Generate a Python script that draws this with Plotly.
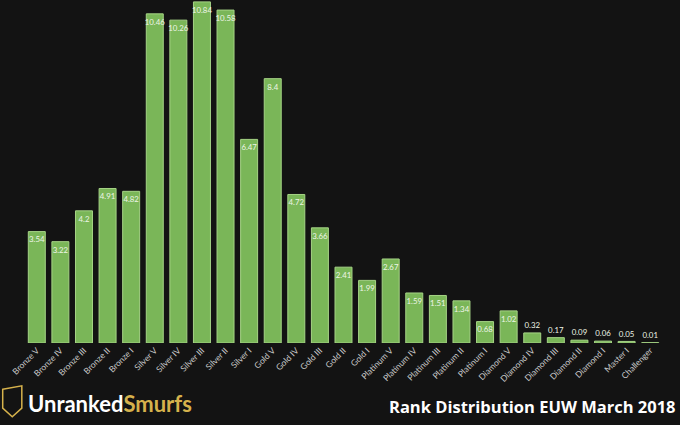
import plotly.graph_objects as go

# Rank distribution, EUW March 2018 (percent of players)
ranks = [
    "Bronze V", "Bronze IV", "Bronze III", "Bronze II", "Bronze I",
    "Silver V", "Silver IV", "Silver III", "Silver II", "Silver I",
    "Gold V", "Gold IV", "Gold III", "Gold II", "Gold I",
    "Platinum V", "Platinum IV", "Platinum III", "Platinum II", "Platinum I",
    "Diamond V", "Diamond IV", "Diamond III", "Diamond II", "Diamond I",
    "Master I", "Challenger",
]
share = [
    3.54, 3.22, 4.2, 4.91, 4.82,
    10.46, 10.26, 10.84, 10.58, 6.47,
    8.4, 4.72, 3.66, 2.41, 1.99,
    2.67, 1.59, 1.51, 1.34, 0.68,
    1.02, 0.32, 0.17, 0.09, 0.06,
    0.05, 0.01,
]

BG = "#131313"

# small bars get their label above the bar
text_pos = ["inside" if v >= 0.5 else "outside" for v in share]

fig = go.Figure()
fig.add_trace(
    go.Bar(
        x=ranks,
        y=share,
        text=[f"{v:g}" for v in share],
        textposition=text_pos,
        insidetextanchor="end",
        textangle=0,
        cliponaxis=False,
        textfont=dict(family="Lato", size=9, color="#eef5e6"),
        marker=dict(color="#7ab658", line=dict(color="#a6d486", width=1)),
        hoverinfo="x+y",
    )
)

# logo and title in the footer
fig.add_annotation(
    x=0, y=0, xref="paper", yref="paper", yanchor="top", xanchor="left",
    xshift=1, yshift=-45,
    text="<b><span style='color:#ffffff'>Unranked</span><span style='color:#d6b24c'>Smurfs</span></b>",
    font=dict(family="Lato", size=22),
    showarrow=False,
)
fig.add_annotation(
    x=1, y=0, xref="paper", yref="paper", xanchor="right", yanchor="top",
    text="<b>Rank Distribution EUW March 2018</b>",
    font=dict(family="Open Sans", size=16.5, color="#ffffff"),
    showarrow=False,
    xshift=16, yshift=-50,
)
# simple shield mark next to the logo text
fig.add_shape(
    type="path", xref="paper", yref="paper",
    path="M -0.035 -0.135 L -0.005 -0.125 L -0.005 -0.19 L -0.02 -0.215 L -0.035 -0.19 Z",
    line=dict(color="#d6b24c", width=1.5), fillcolor=BG,
)

fig.update_layout(
    width=680,
    height=425,
    margin=dict(l=25, r=18, t=0, b=82),
    paper_bgcolor=BG,
    plot_bgcolor=BG,
    bargap=0.28,
    showlegend=False,
    uniformtext=dict(minsize=7, mode="show"),
)
fig.update_xaxes(
    tickangle=-45,
    tickfont=dict(family="Lato", size=8.5, color="#c8c8c8"),
    showgrid=False, zeroline=False, showline=False, ticks="",
)
fig.update_yaxes(range=[0, 10.9], visible=False, showgrid=False)

fig.write_html(
    "out.html",
    config={"displayModeBar": False},
    post_script="document.body.style.margin='0';document.body.style.background='#131313';",
)
